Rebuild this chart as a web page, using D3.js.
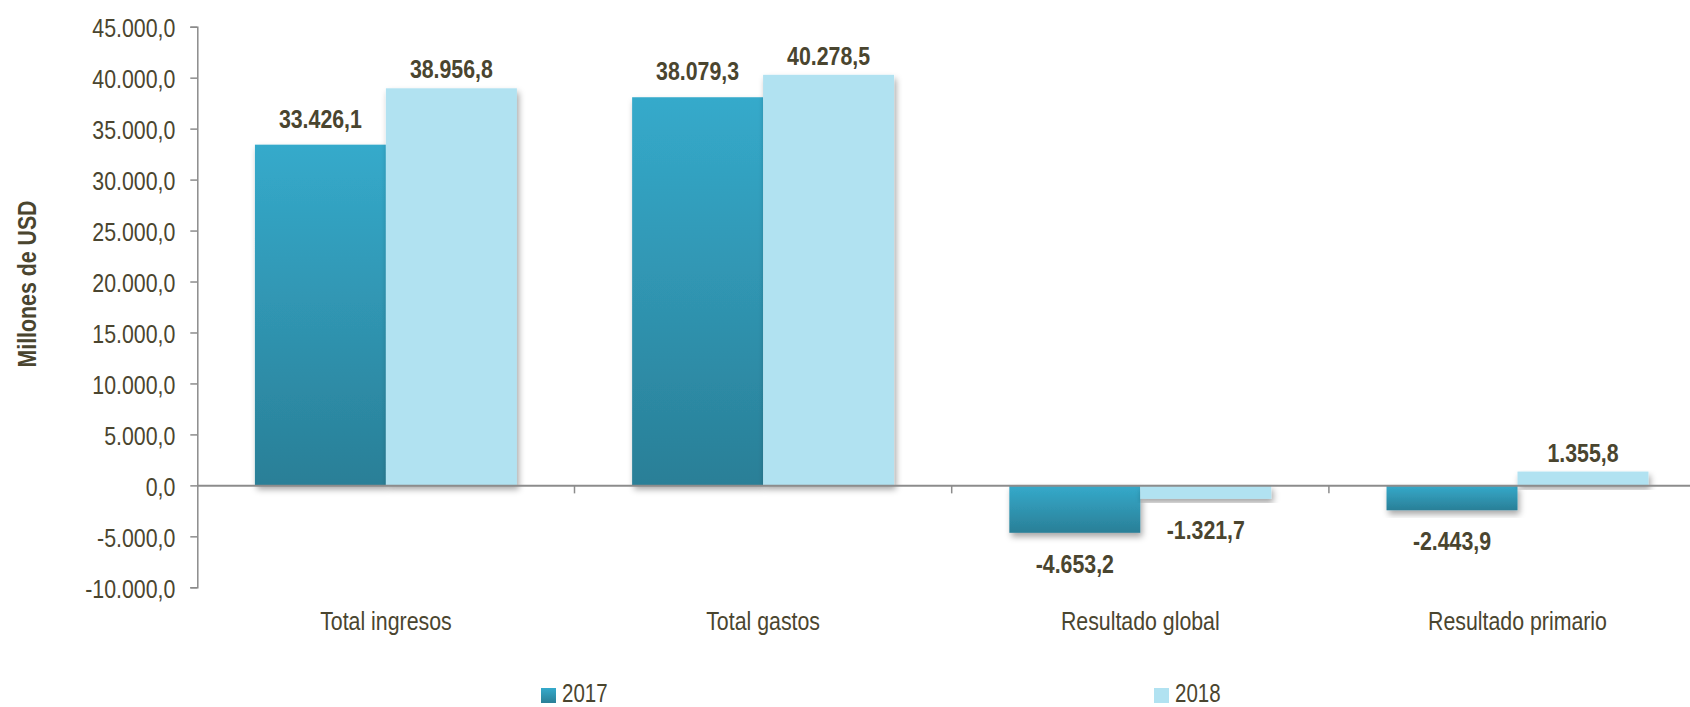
<!DOCTYPE html>
<html>
<head>
<meta charset="utf-8">
<script src="https://cdn.jsdelivr.net/npm/d3@7"></script>
<style>
  html, body { margin: 0; padding: 0; background: #ffffff; }
  svg { display: block; }
  text { font-family: "Liberation Sans Narrow", "Arial Narrow", "Liberation Sans", Arial, sans-serif; fill: #4a452f; }
</style>
</head>
<body>
<svg id="chart" width="1690" height="707"></svg>
<script>
// ---- data ----
const categories = ["Total ingresos", "Total gastos", "Resultado global", "Resultado primario"];
const seriesNames = ["2017", "2018"];
const values2017 = [33426.1, 38079.3, -4653.2, -2443.9];
const values2018 = [38956.8, 40278.5, -1321.7, 1355.8];
const yTicks = [-10000, -5000, 0, 5000, 10000, 15000, 20000, 25000, 30000, 35000, 40000, 45000];
const yTitle = "Millones de USD";

// ---- layout ----
const W = 1690, H = 707;
const plot = { left: 197.3, right: 197.3 + 4 * 377.2, top: 26.7, bottom: 587.3 };
const textColor = "#4a452f";
const axisColor = "#8c8c8c";
const narrow = 0.82; // condensed look of the original font
const labelGapAbove = { "2017": 17, "2018": 10 };

const locale = d3.formatLocale({ decimal: ",", thousands: ".", grouping: [3], currency: ["", ""], minus: "-" });
const fmt = locale.format(",.1f");

const svg = d3.select("#chart");
const defs = svg.append("defs");

const grad = defs.append("linearGradient").attr("id", "g2017")
  .attr("x1", 0).attr("y1", 0).attr("x2", 0).attr("y2", 1);
grad.append("stop").attr("offset", "0%").attr("stop-color", "#35aacb");
grad.append("stop").attr("offset", "100%").attr("stop-color", "#2a7f97");

const shadow = defs.append("filter").attr("id", "shadow")
  .attr("x", "-10%").attr("y", "-10%").attr("width", "130%").attr("height", "140%");
shadow.append("feDropShadow").attr("dx", 2).attr("dy", 4).attr("stdDeviation", 3)
  .attr("flood-color", "#000").attr("flood-opacity", 0.35);

const fills = { "2017": "url(#g2017)", "2018": "#b1e2f1" };

const x0 = d3.scaleBand().domain(categories).range([plot.left, plot.right]).paddingInner(0).paddingOuter(0);
const x1 = d3.scaleBand().domain(seriesNames).range([0, x0.bandwidth()]).paddingInner(0).paddingOuter(0.44);
const y = d3.scaleLinear().domain([-10000, 45000]).range([plot.bottom, plot.top]);

const rows = categories.map((c, i) => ({ cat: c, vals: [
  { s: "2017", v: values2017[i] }, { s: "2018", v: values2018[i] }
]}));

// bars
const groups = svg.append("g").selectAll("g").data(rows).join("g")
  .attr("transform", d => `translate(${x0(d.cat)},0)`);

groups.selectAll("rect").data(d => d.vals).join("rect")
  .attr("x", d => x1(d.s))
  .attr("width", x1.bandwidth())
  .attr("y", d => y(Math.max(0, d.v)))
  .attr("height", d => Math.abs(y(d.v) - y(0)))
  .attr("fill", d => fills[d.s])
  .attr("filter", "url(#shadow)");

// y axis
const yAxis = d3.axisLeft(y).tickValues(yTicks).tickFormat(fmt).tickSize(7).tickPadding(15);
const gy = svg.append("g").attr("transform", `translate(${plot.left},0)`).call(yAxis);
gy.select(".domain").attr("stroke", axisColor).attr("stroke-width", 1.5);
gy.selectAll(".tick line").attr("stroke", axisColor).attr("stroke-width", 1.5);
gy.selectAll(".tick text").attr("font-size", 26).attr("fill", textColor)
  .style("font-family", '"Liberation Sans Narrow", "Arial Narrow", "Liberation Sans", Arial, sans-serif')
  .attr("dy", "0.38em");

// x axis at zero
const xAxis = d3.axisBottom(x0).tickSize(0).tickPadding(0).tickFormat("");
const gx = svg.append("g").attr("transform", `translate(0,${y(0)})`).call(xAxis);
gx.select(".domain").attr("stroke", axisColor).attr("stroke-width", 2);
gx.selectAll(".tick").remove();
const boundaries = categories.slice(1).map(c => x0(c));
gx.selectAll("line.bt").data(boundaries).join("line").attr("class", "bt")
  .attr("x1", d => d).attr("x2", d => d).attr("y1", 0).attr("y2", 8)
  .attr("stroke", axisColor).attr("stroke-width", 1.5);

// category labels
svg.append("g").selectAll("text").data(categories).join("text")
  .attr("x", d => x0(d) + x0.bandwidth() / 2)
  .attr("y", 630)
  .attr("text-anchor", "middle")
  .attr("font-size", 26)
  .text(d => d);

// value labels
groups.selectAll("text.val").data(d => d.vals).join("text").attr("class", "val")
  .attr("x", d => x1(d.s) + x1.bandwidth() / 2)
  .attr("y", d => d.v >= 0 ? y(d.v) - labelGapAbove[d.s] : y(d.v) + 40)
  .attr("text-anchor", "middle")
  .attr("font-size", 26)
  .attr("font-weight", "bold")
  .text(d => fmt(d.v));

// y title
svg.append("text")
  .attr("transform", "translate(36,284) rotate(-90)")
  .attr("text-anchor", "middle")
  .attr("font-size", 26)
  .attr("font-weight", "bold")
  .text(yTitle);

// legend
const legendX = d3.scalePoint().domain(seriesNames).range([541, 1154]);
const lg = svg.append("g").selectAll("g").data(seriesNames).join("g")
  .attr("transform", d => `translate(${legendX(d)},688)`);
lg.append("rect").attr("width", 15).attr("height", 15).attr("fill", d => fills[d]);
lg.append("text").attr("x", 21).attr("y", 14).attr("font-size", 25).text(d => d);

// condense all text horizontally to mimic the narrow original typeface
svg.selectAll("text").each(function () {
  const len = this.getComputedTextLength();
  d3.select(this).attr("textLength", len * narrow).attr("lengthAdjust", "spacingAndGlyphs");
});
</script>
</body>
</html>
